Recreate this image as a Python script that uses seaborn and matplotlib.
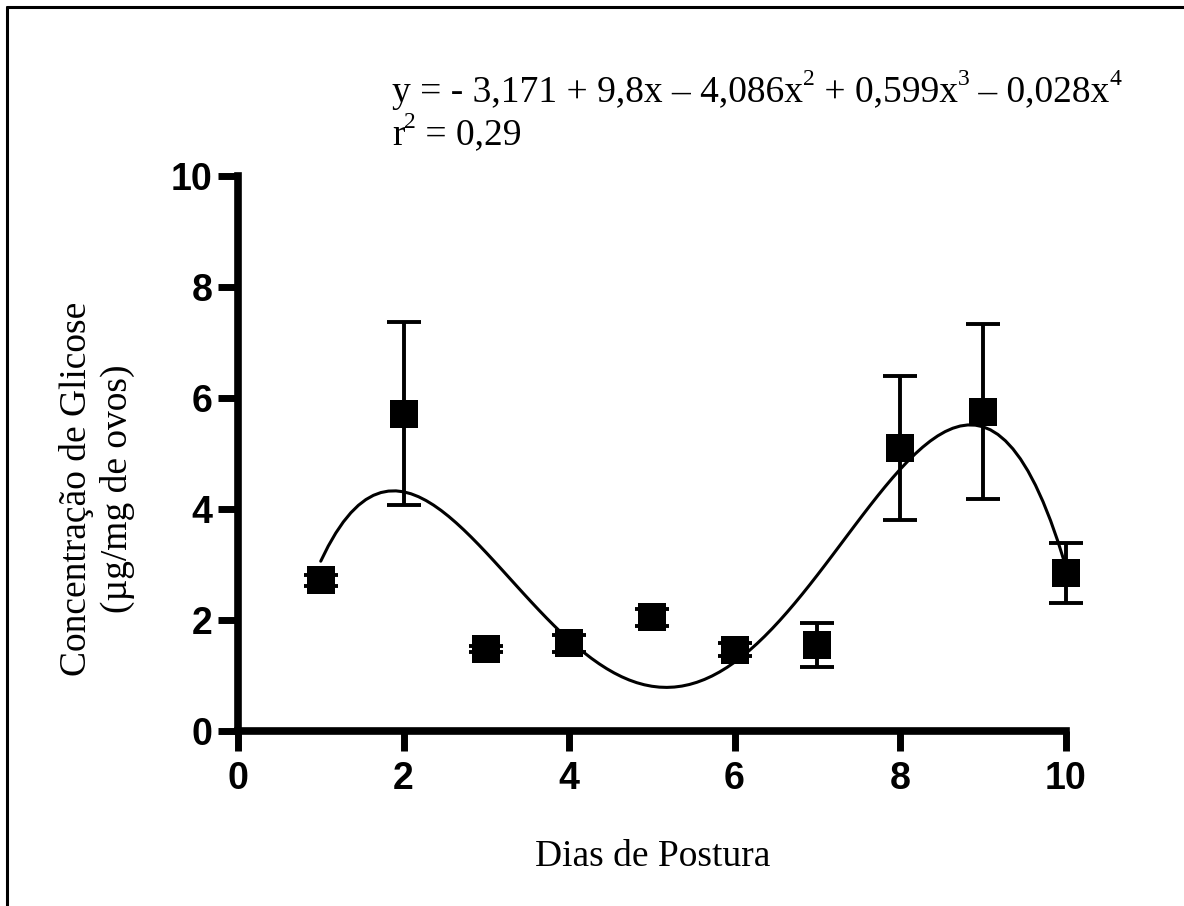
import numpy as np
import pandas as pd
import matplotlib
matplotlib.use('Agg')
import matplotlib.pyplot as plt
import seaborn as sns
from matplotlib.lines import Line2D

sns.set_theme(style='ticks')
plt.rcParams['font.family'] = ['Liberation Serif', 'DejaVu Serif']
plt.rcParams['text.color'] = 'black'
plt.rcParams['xtick.color'] = 'black'
plt.rcParams['ytick.color'] = 'black'

# dados (media +- erro)
dias = [1, 2, 3, 4, 5, 6, 7, 8, 9, 10]
glicose = [2.72, 5.72, 1.48, 1.58, 2.05, 1.47, 1.55, 5.10, 5.76, 2.85]
erro = [0.10, 1.65, 0.05, 0.15, 0.15, 0.12, 0.40, 1.30, 1.58, 0.54]
ticks = [0, 2, 4, 6, 8, 10]

# equacao: pedacos normais e expoentes
eq_partes = ['y = - 3,171 + 9,8x – 4,086x', ' + 0,599x', ' – 0,028x']
eq_expoentes = ['2', '3', '4']

df = pd.DataFrame({'dias': dias, 'glicose': glicose, 'erro': erro})

fig = plt.figure(figsize=(11.84, 9.06), dpi=100)
ax = fig.add_axes([0.201, 0.193, 0.699, 0.6125])

# polynomial fit (4th order), like the reference
sns.regplot(data=df, x='dias', y='glicose', order=4, ci=None, scatter=False,
            line_kws=dict(color='black', lw=2.2), ax=ax)
ax.errorbar(df.dias, df.glicose, yerr=df.erro, fmt='none', ecolor='black',
            elinewidth=2.8, capsize=12, capthick=2.8)
sns.scatterplot(data=df, x='dias', y='glicose', marker='s', s=420, color='black',
                edgecolor='black', linewidth=0, ax=ax, zorder=5)

ax.set_xlim(0, 10)
ax.set_ylim(0, 10)
ax.set_xticks(ticks)
ax.set_yticks(ticks)
ax.set_xlabel('')
ax.set_ylabel('')
for s in ['top', 'right']:
    ax.spines[s].set_visible(False)
for s in ['left', 'bottom']:
    ax.spines[s].set_linewidth(5.5)
    ax.spines[s].set_color('black')
ax.tick_params(axis='both', length=14.5, width=5, direction='out', color='black',
               labelcolor='black')
ax.tick_params(axis='x', pad=7)
ax.tick_params(axis='y', pad=4)
for lbl in ax.get_xticklabels() + ax.get_yticklabels():
    lbl.set_fontfamily(['Liberation Sans', 'DejaVu Sans'])
    lbl.set_fontweight('bold')
    lbl.set_fontsize(27)

# points at x=10 sit on the axis end
for art in ax.get_children():
    try:
        art.set_clip_on(False)
    except Exception:
        pass

# labels
fig.text(0.551, 0.054, 'Dias de Postura', ha='center', va='center', fontsize=27)
fig.text(0.082, 0.46, 'Concentração de Glicose\n(µg/mg de ovos)', rotation=90,
         ha='center', va='center', fontsize=27, linespacing=1.2)


def texto_com_expoentes(x, y, partes, expoentes, size=27, sup_size=17):
    # encadeia pedacos de texto: base, expoente, base, expoente...
    base = fig.text(x, y, partes[0], ha='left', va='bottom', fontsize=size)
    prev = base
    for i, e in enumerate(expoentes):
        prev = ax.annotate(e, xy=(1, 0.58), xycoords=(prev, base), ha='left',
                           va='bottom', fontsize=sup_size, annotation_clip=False)
        if i + 1 < len(partes):
            prev = ax.annotate(partes[i + 1], xy=(1, 0), xycoords=(prev, base),
                               ha='left', va='bottom', fontsize=size,
                               annotation_clip=False)
    return base


texto_com_expoentes(0.331, 0.879, eq_partes, eq_expoentes)
texto_com_expoentes(0.331, 0.8315, ['r', ' = 0,29'], ['2'])

# moldura
fig.add_artist(Line2D([7 / 1184, 7 / 1184], [0, 1 - 7 / 906], transform=fig.transFigure,
                      color='black', lw=2.2))
fig.add_artist(Line2D([7 / 1184, 1], [1 - 7 / 906, 1 - 7 / 906], transform=fig.transFigure,
                      color='black', lw=2.2))

fig.savefig('out.png', dpi=100)
